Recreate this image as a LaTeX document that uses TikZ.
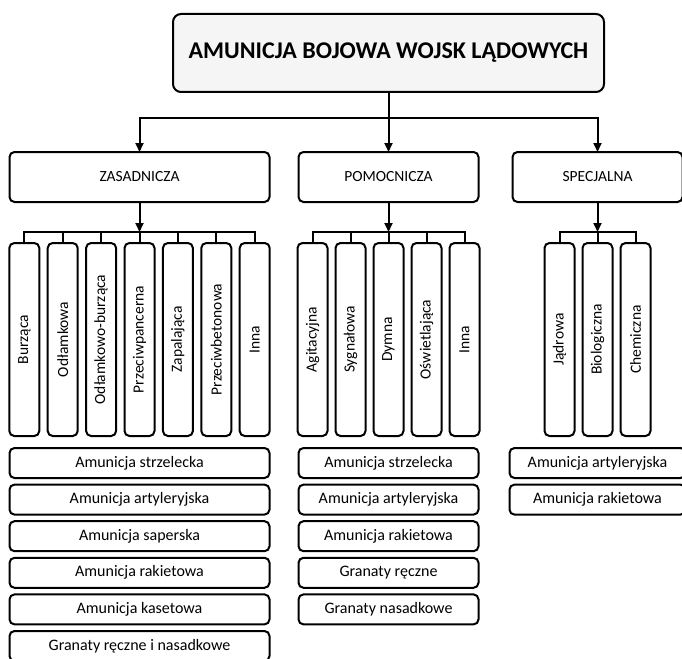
\documentclass[tikz,border=0pt]{standalone}
\usepackage{fontspec}
\setmainfont{Carlito}
\usetikzlibrary{positioning,arrows.meta}
\tikzstyle{every node}=[thick]
\tikzstyle{boxbase}=[draw,line width=2pt,rounded corners=5pt,inner sep=0pt,outer sep=0pt]
\tikzstyle{titlebox}=[boxbase,rounded corners=8pt,fill=gray!8,minimum width=431pt,minimum height=78pt,font=\bfseries\fontsize{24}{28}\selectfont]
\tikzstyle{grpbox}=[boxbase,minimum height=50pt,font=\fontsize{15.5}{17}\selectfont]
\tikzstyle{kindbox}=[boxbase,minimum width=30pt,minimum height=193pt,font=\fontsize{15.5}{17}\selectfont]
\tikzstyle{itembox}=[boxbase,minimum height=30pt,font=\fontsize{16}{18}\selectfont]
\tikzstyle{link}=[line width=2pt]
\tikzstyle{arr}=[link,-{Triangle[length=9pt,width=8pt]}]

\begin{document}
\begin{tikzpicture}
	\useasboundingbox (0,0) rectangle (682pt,-658pt);
	\clip (0,0) rectangle (682pt,-658pt);
	\node(top)[titlebox] at (388.5pt,-53pt){AMUNICJA BOJOWA WOJSK LĄDOWYCH};
	\node(pom)[grpbox,minimum width=180pt,below=60pt of top]{POMOCNICZA};
	\node(zas)[grpbox,minimum width=260pt,left=29pt of pom]{ZASADNICZA};
	\node(spe)[grpbox,minimum width=170pt,right=34pt of pom]{SPECJALNA};

	% zasadnicza
	\node(z4)[kindbox,below=41pt of zas]{\rotatebox{90}{Przeciwpancerna}};
	\node(z3)[kindbox,left=8.4pt of z4]{\rotatebox{90}{Odłamkowo-burząca}};
	\node(z2)[kindbox,left=8.4pt of z3]{\rotatebox{90}{Odłamkowa}};
	\node(z1)[kindbox,left=8.4pt of z2]{\rotatebox{90}{Burząca}};
	\node(z5)[kindbox,right=8.4pt of z4]{\rotatebox{90}{Zapalająca}};
	\node(z6)[kindbox,right=8.4pt of z5]{\rotatebox{90}{Przeciwbetonowa}};
	\node(z7)[kindbox,right=8.4pt of z6]{\rotatebox{90}{Inna}};

	% pomocnicza
	\node(p3)[kindbox,below=41pt of pom]{\rotatebox{90}{Dymna}};
	\node(p2)[kindbox,left=8pt of p3]{\rotatebox{90}{Sygnałowa}};
	\node(p1)[kindbox,left=8pt of p2]{\rotatebox{90}{Agitacyjna}};
	\node(p4)[kindbox,right=8pt of p3]{\rotatebox{90}{Oświetlająca}};
	\node(p5)[kindbox,right=8pt of p4]{\rotatebox{90}{Inna}};

	% specjalna
	\node(s2)[kindbox,below=41pt of spe]{\rotatebox{90}{Biologiczna}};
	\node(s1)[kindbox,left=8pt of s2]{\rotatebox{90}{Jądrowa}};
	\node(s3)[kindbox,right=8pt of s2]{\rotatebox{90}{Chemiczna}};

	\node(za)[itembox,minimum width=260pt,below=12pt of z4]{Amunicja strzelecka};
	\node(zb)[itembox,minimum width=260pt,below=6.6pt of za]{Amunicja artyleryjska};
	\node(zc)[itembox,minimum width=260pt,below=6.6pt of zb]{Amunicja saperska};
	\node(zd)[itembox,minimum width=260pt,below=6.6pt of zc]{Amunicja rakietowa};
	\node(ze)[itembox,minimum width=260pt,below=6.6pt of zd]{Amunicja kasetowa};
	\node(zf)[itembox,minimum width=260pt,below=6.6pt of ze]{Granaty ręczne i nasadkowe};

	\node(pa)[itembox,minimum width=180pt,below=12pt of p3]{Amunicja strzelecka};
	\node(pb)[itembox,minimum width=180pt,below=6.6pt of pa]{Amunicja artyleryjska};
	\node(pc)[itembox,minimum width=180pt,below=6.6pt of pb]{Amunicja rakietowa};
	\node(pd)[itembox,minimum width=180pt,below=6.6pt of pc]{Granaty ręczne};
	\node(pe)[itembox,minimum width=180pt,below=6.6pt of pd]{Granaty nasadkowe};

	\node(sa)[itembox,minimum width=176pt,below=12pt of s2]{Amunicja artyleryjska};
	\node(sb)[itembox,minimum width=176pt,below=6.6pt of sa]{Amunicja rakietowa};

	\draw[arr] (top.south) -- (pom.north);
	\draw[arr] ([yshift=-26pt]top.south) -| (zas.north);
	\draw[arr] ([yshift=-26pt]top.south) -| (spe.north);

	\draw[arr] (zas.south) -- ([yshift=11pt]z4.north);
	\draw[link] (z1.north) -- ++(0,11pt) -| (z7.north);
	\draw[link] (z2.north) -- ++(0,11pt) (z3.north) -- ++(0,11pt) (z4.north) -- ++(0,11pt)
	            (z5.north) -- ++(0,11pt) (z6.north) -- ++(0,11pt);

	\draw[arr] (pom.south) -- ([yshift=11pt]p3.north);
	\draw[link] (p1.north) -- ++(0,11pt) -| (p5.north);
	\draw[link] (p2.north) -- ++(0,11pt) (p3.north) -- ++(0,11pt) (p4.north) -- ++(0,11pt);

	\draw[arr] (spe.south) -- ([yshift=11pt]s2.north);
	\draw[link] (s1.north) -- ++(0,11pt) -| (s3.north);
	\draw[link] (s2.north) -- ++(0,11pt);
\end{tikzpicture}
\end{document}
